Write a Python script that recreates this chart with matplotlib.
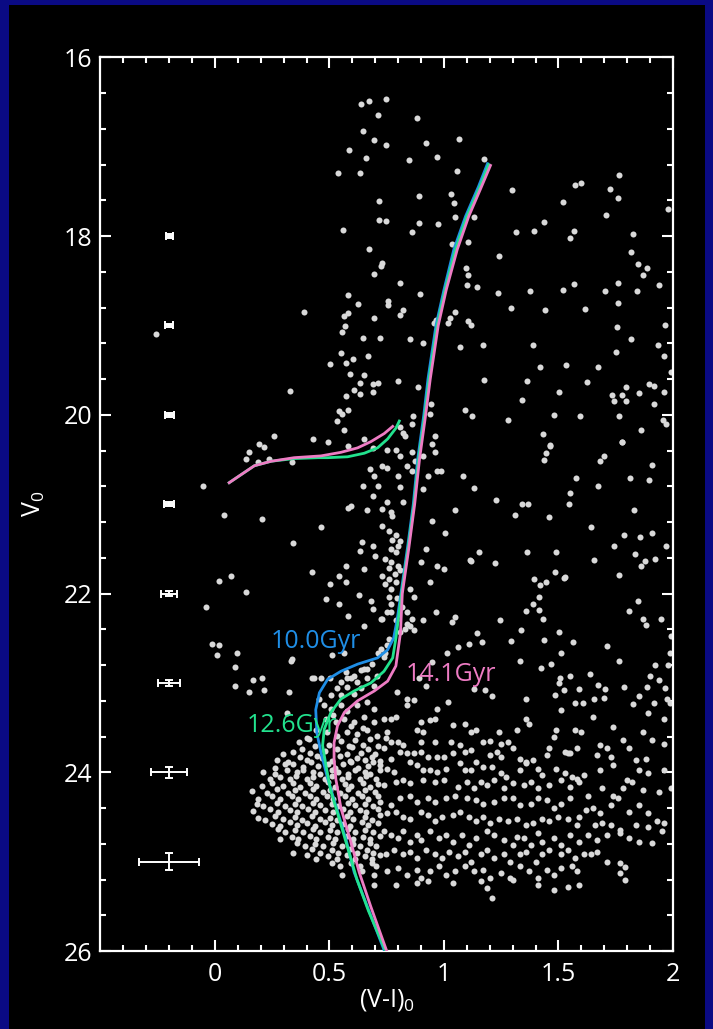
import numpy as np
import matplotlib
matplotlib.use('Agg')
from matplotlib import pyplot as plt
from matplotlib.patches import Rectangle

plt.rcParams['font.family'] = ['Open Sans', 'DejaVu Sans']
plt.rcParams['mathtext.fontset'] = 'custom'
plt.rcParams['mathtext.rm'] = 'Open Sans'
plt.rcParams['mathtext.it'] = 'Open Sans'

# stars, (V-I)0, V0
stars_top = [
    (0.636,16.52),(0.672,16.49),(0.745,16.47),(0.711,16.65),(0.88,16.68),(0.648,16.82),
    (0.695,16.92),(0.747,16.98),(0.587,17.04),(0.923,16.96),(1.066,16.91),(0.969,17.11),
    (0.658,17.13),(0.846,17.15),(0.537,17.29),(0.634,17.30),(0.892,17.55),(0.715,17.61),
    (0.717,17.82),(0.747,17.83),(0.892,17.85),(0.973,17.87),(0.557,17.93),(0.862,17.96),
    (0.672,18.15),(0.731,18.30),(0.727,18.34),(0.695,18.43),(0.81,18.53),(0.894,18.65),
    (0.583,18.66),(0.626,18.76),(0.755,18.73),(0.757,18.77),(0.822,18.83),(0.806,18.88),
    (0.563,18.90),(0.579,18.86),(0.695,18.92),(0.567,19.01),(0.553,19.07),(0.39,18.85),
    (0.646,19.14),(0.721,19.14),(0.85,19.15),(0.91,19.20),(0.964,18.94),(0.958,18.97),
    (-0.257,19.10),
]
stars_mid = [
    (0.549,19.31),(0.573,19.42),(0.602,19.38),(0.668,19.34),(0.504,19.43),(0.589,19.54),
    (0.652,19.55),(0.632,19.64),(0.688,19.66),(0.711,19.64),(0.692,19.74),(0.608,19.72),
    (0.80,19.62),(0.329,19.73),(0.632,19.77),(0.573,19.79),(0.886,19.69),(0.543,19.96),
    (0.553,19.99),(0.583,19.95),(0.533,20.07),(0.563,20.17),(0.81,20.14),(0.82,20.20),
    (0.83,20.24),(0.866,20.01),(0.86,20.10),(0.939,19.99),(0.945,19.88),(0.959,20.24),
    (0.256,20.24),(0.192,20.33),(0.216,20.36),(0.147,20.42),(0.137,20.50),(0.187,20.53),
    (0.236,20.50),(0.335,20.53),(0.43,20.27),(0.494,20.30),(0.583,20.35),(0.652,20.27),
    (0.688,20.37),(0.751,20.39),(0.79,20.39),(0.81,20.46),(0.86,20.42),(0.874,20.52),
    (0.909,20.46),(0.949,20.33),(0.959,20.42),(0.676,20.61),(0.696,20.68),(0.731,20.57),
    (0.751,20.59),(0.80,20.68),(0.84,20.57),(0.86,20.63),(0.929,20.68),(0.969,20.63),
    (-0.051,20.80),(0.648,20.80),(0.711,20.80),(0.81,20.81),(0.909,20.83),(0.692,20.91),
    (0.751,20.98),(0.82,20.98),(0.593,21.02),(0.583,21.04),(0.662,21.06),(0.731,21.05),
    (0.77,21.09),(0.775,21.13),(0.038,21.12),(0.206,21.17),(0.731,21.24),(0.761,21.30),
    (0.949,21.19),(0.464,21.25),(0.79,21.35),(0.81,21.41),(0.80,21.47),(0.77,21.50),
    (0.79,21.54),(0.339,21.43),(0.642,21.42),(0.632,21.52),(0.692,21.47),(0.70,21.58),
    (0.741,21.61),(0.77,21.65),(0.761,21.71),(0.80,21.69),(0.81,21.74),(0.92,21.50),
    (0.90,21.65),(0.969,21.69),(0.731,21.80),(0.761,21.84),(0.741,21.89),(0.77,21.95),
    (0.761,22.04),(0.77,22.12),(0.79,21.87),(0.573,21.69),(0.543,21.80),(0.652,21.73),
    (0.424,21.76),(0.503,21.89),(0.573,21.87),(0.628,22.02),(0.682,22.08),(0.688,22.17),
    (0.018,21.86),(0.068,21.80),(0.137,21.98),(-0.041,22.15),(0.484,22.06),(0.543,22.12),
    (0.85,21.95),(0.87,22.04),(0.939,21.87),(0.84,22.21),(0.86,22.28),(0.85,22.36),
    (0.909,22.30),(0.965,22.21),(0.83,22.40),(0.81,22.43),(0.731,22.28),(0.77,22.21),
    (0.583,22.25),(0.652,22.36),(-0.011,22.57),(0.018,22.58),(0.008,22.69),(0.097,22.67),
    (0.087,22.82),(0.167,22.97),(0.206,22.95),(0.087,23.03),(0.335,22.73),(0.434,22.95),
    (0.503,22.94),(0.573,22.88),(0.593,22.95),(0.711,22.67),(0.741,22.66),(0.652,22.84),
    (0.949,22.77),(0.89,22.94),(0.92,23.03),(0.785,21.78),(0.795,22.05),(0.79,22.30),
    (0.775,21.40),(0.815,22.15),
]
stars_sgb = [
    (0.723,22.62),(0.752,22.58),(0.737,22.71),(0.687,22.79),(0.665,22.84),(0.636,22.86),
    (0.607,22.92),(0.578,22.95),(0.549,22.99),(0.621,22.99),(0.665,22.95),(0.708,22.92),
    (0.534,23.06),(0.578,23.05),(0.636,23.06),(0.694,23.03),(0.505,23.14),(0.549,23.14),
    (0.607,23.12),(0.752,22.21),(0.723,22.28),(0.759,22.51),(0.839,22.34),(0.868,22.41),
    (0.425,22.95),(0.461,22.95),(0.331,22.75),(0.512,22.69),(0.563,22.67),(0.795,23.10),
    (0.839,23.18),(0.316,23.34),(0.454,23.18),(0.476,23.25),(0.505,23.29),(0.549,23.25),
    (0.578,23.32),(0.621,23.25),(0.665,23.21),(0.694,23.29),(0.483,23.40),(0.527,23.44),
    (0.563,23.40),(0.607,23.44),(0.650,23.38),(0.694,23.44),(0.49,23.55),(0.534,23.59),
    (0.578,23.55),(0.621,23.57),(0.665,23.53),(0.708,23.59),(0.403,23.62),(0.44,23.53),
    (0.147,23.10),(0.216,23.08),(0.325,23.10),(0.592,23.48),(0.648,23.50),(0.515,23.36),
]
stars_right_top = [
    (1.055,17.27),(1.174,17.14),(1.029,17.53),(1.043,17.63),(1.05,17.79),(1.133,17.79),
    (1.033,18.09),(1.107,18.07),(1.094,18.36),(1.104,18.44),(1.101,18.55),(1.145,18.57),
    (1.241,18.22),(1.299,17.48),(1.518,17.62),(1.573,17.43),(1.599,17.41),(1.726,17.47),
    (1.765,17.32),(1.758,17.57),(1.708,17.76),(1.98,17.70),(1.438,17.84),(1.395,17.94),
    (1.315,17.96),(1.566,17.94),(1.549,18.02),(1.824,17.98),(1.817,18.18),(1.845,18.31),
    (1.888,18.36),(1.871,18.44),(1.941,18.55),(1.761,18.53),(1.843,18.62),(1.701,18.61),
    (1.569,18.54),(1.521,18.60),(1.376,18.62),(1.236,18.64),(1.293,18.81),(1.44,18.83),
    (1.615,18.82),(1.759,18.75),(1.046,18.85),(1.026,18.92),(1.018,18.97),(1.104,18.95),
    (1.116,19.0),(1.072,19.24),(1.171,19.22),(1.389,19.22),(1.756,19.02),(1.817,19.15),
    (1.75,19.30),(1.936,19.22),(1.965,19.0),(1.961,19.34),(1.992,19.52),(1.174,19.61),
    (1.418,19.46),(1.534,19.44),(1.671,19.47),(1.626,19.63),(1.364,19.62),(1.501,19.75),
    (1.341,19.83),(1.793,19.69),(1.733,19.78),(1.777,19.78),(1.743,19.85),(1.795,19.85),
    (1.85,19.76),(1.897,19.65),(1.917,19.68),(1.961,19.75),(1.919,19.88),(1.09,19.95),
    (1.122,20.01),(1.278,20.06),(1.482,20.0),(1.592,20.01),(1.765,20.01),(1.955,20.06),
    (1.97,20.10),(1.862,20.17),(1.431,20.22),(1.464,20.34),(1.777,20.31),
]
stars_right_mid = [
    (1.447,20.43),(1.435,20.51),(1.70,20.46),(1.682,20.52),(1.909,20.56),(0.989,20.63),
    (1.081,20.69),(1.133,20.82),(1.578,20.71),(1.811,20.71),(1.894,20.73),(1.673,20.80),
    (1.549,20.88),(1.546,21.0),(1.228,20.95),(1.341,21.0),(1.367,21.0),(1.046,21.07),
    (1.309,21.12),(1.46,21.14),(1.829,21.06),(1.643,21.26),(1.005,21.32),(1.787,21.35),
    (1.854,21.37),(1.909,21.32),(1.97,21.47),(1.743,21.47),(1.155,21.53),(1.113,21.62),
    (1.119,21.64),(1.363,21.54),(1.488,21.54),(1.222,21.66),(1.836,21.56),(1.878,21.64),
    (1.859,21.69),(1.922,21.61),(1.656,21.62),(1.0,21.72),(1.486,21.76),(1.522,21.83),
    (1.528,21.81),(1.766,21.79),(1.392,21.84),(1.445,21.87),(1.421,21.91),(1.415,22.04),
    (1.389,22.12),(1.36,22.20),(1.416,22.18),(1.434,22.28),(1.846,22.08),(1.806,22.20),
    (1.867,22.28),(1.88,22.35),(1.946,22.28),(1.049,22.26),(1.037,22.32),(1.244,22.30),
    (1.338,22.41),(1.503,22.43),(1.142,22.44),(1.165,22.54),(1.293,22.53),(1.438,22.52),
    (1.562,22.54),(1.06,22.60),(1.11,22.57),(1.011,22.67),(1.711,22.59),(1.511,22.66),
    (1.99,22.47),(1.987,22.67),(1.334,22.76),(1.763,22.76),(1.424,22.83),(1.469,22.79),
    (1.922,22.80),(1.978,22.80),(1.639,22.90),(1.508,22.94),(1.503,23.0),(1.549,22.92),
    (1.90,22.92),(1.939,22.97),(1.673,23.02),(1.701,23.07),(1.788,23.05),(1.886,23.05),
    (1.964,23.06),(1.591,23.07),(1.525,23.08),(1.13,23.07),(1.177,23.08),(1.21,23.15),
    (1.36,23.18),(1.486,23.14),(1.85,23.15),(1.653,23.18),(1.70,23.17),(1.915,23.23),
    (1.017,23.21),(1.827,23.24),(1.572,23.22),(1.607,23.23),(1.973,23.18),(1.987,23.23),
    (1.464,20.35),(1.777,20.31),
]
stars_field_low = [
    (0.84,23.25),(0.87,23.19),(0.97,23.29),(1.51,23.30),(1.65,23.38),(1.89,23.34),(1.96,23.40),
    (0.74,23.40),(0.77,23.40),(0.79,23.38),(0.90,23.44),(0.94,23.42),(0.96,23.40),(1.04,23.47),
    (1.09,23.46),(1.36,23.40),(1.37,23.46),(1.49,23.53),(1.57,23.53),(1.60,23.55),(1.74,23.49),
    (1.87,23.55),(0.75,23.55),(0.745,23.62),(0.88,23.53),(0.91,23.55),(1.12,23.55),(1.14,23.53),
    (1.24,23.55),(1.32,23.53),(1.48,23.60),(0.77,23.66),(0.80,23.66),(0.82,23.70),(0.90,23.66),
    (0.96,23.66),(1.03,23.66),(1.07,23.70),(1.17,23.66),(1.20,23.65),(1.25,23.68),(1.28,23.66),
    (1.46,23.73),(1.53,23.77),(1.55,23.79),(1.58,23.73),(1.68,23.70),(1.71,23.73),(1.78,23.64),
    (1.81,23.73),(1.91,23.64),(1.96,23.68),(0.74,23.73),(0.77,23.85),(0.81,23.77),(0.84,23.79),
    (0.87,23.79),(0.90,23.77),(0.93,23.83),(0.97,23.83),(1.0,23.83),(1.04,23.79),(1.09,23.77),
    (1.12,23.75),(1.20,23.81),(1.23,23.77),(1.25,23.83),(1.30,23.73),(1.33,23.85),(1.36,23.88),
    (1.39,23.86),(1.45,23.81),(1.54,23.79),(1.67,23.81),(1.73,23.83),(1.84,23.86),(1.88,23.85),
    (0.72,23.92),(0.75,23.96),(0.78,24.0),(0.85,23.88),(0.88,23.92),(0.91,23.98),(0.94,23.98),
    (0.97,24.0),(1.01,23.96),(1.07,23.90),(1.09,23.98),(1.12,23.98),(1.14,23.88),(1.17,23.94),
    (1.21,23.94),(1.25,24.01),(1.27,24.05),(1.33,23.98),(1.36,23.90),(1.41,23.96),(1.43,24.03),
    (1.49,23.96),(1.53,24.01),(1.56,24.05),(1.58,24.07),(1.61,24.03),(1.68,23.98),(1.74,23.92),
    (1.80,24.09),(1.85,23.98),(1.89,24.01),(1.96,23.98),(1.99,24.18),
    (0.74,24.14),(0.79,24.11),(0.82,24.09),(0.85,24.12),(0.91,24.09),(0.96,24.11),(1.0,24.09),
    (1.06,24.16),(1.10,24.11),(1.13,24.18),(1.16,24.11),(1.19,24.14),(1.22,24.09),(1.26,24.18),
    (1.30,24.12),(1.35,24.14),(1.38,24.11),(1.41,24.18),(1.46,24.14),(1.51,24.09),(1.55,24.16),
    (1.59,24.11),(1.63,24.26),(1.69,24.18),(1.74,24.27),(1.78,24.18),(1.82,24.11),(1.87,24.20),
    (1.94,24.22),
    (0.72,24.33),(0.77,24.37),(0.81,24.29),(0.85,24.27),(0.88,24.33),(0.93,24.29),(0.96,24.33),
    (1.01,24.29),(1.05,24.26),(1.10,24.29),(1.14,24.31),(1.17,24.35),(1.22,24.33),(1.26,24.29),
    (1.30,24.29),(1.33,24.37),(1.38,24.35),(1.41,24.29),(1.45,24.31),(1.48,24.40),(1.51,24.35),
    (1.55,24.29),(1.59,24.50),(1.62,24.42),(1.65,24.40),(1.68,24.46),(1.73,24.37),(1.76,24.29),
    (1.81,24.44),(1.85,24.37),(1.89,24.46),(1.93,24.55),(1.96,24.57),
    (0.72,24.48),(0.75,24.46),(0.79,24.44),(0.82,24.50),(0.85,24.52),(0.90,24.44),(0.93,24.48),
    (0.96,24.55),(0.99,24.50),(1.04,24.48),(1.07,24.44),(1.11,24.50),(1.14,24.55),(1.17,24.50),
    (1.20,24.57),(1.24,24.52),(1.28,24.55),(1.32,24.52),(1.36,24.59),(1.39,24.57),(1.43,24.52),
    (1.46,24.55),(1.50,24.50),(1.54,24.52),(1.58,24.59),(1.66,24.59),(1.69,24.57),(1.73,24.59),
    (1.77,24.65),(1.84,24.59),(1.89,24.61),(1.95,24.66),
    (0.74,24.66),(0.77,24.70),(0.80,24.74),(0.82,24.66),(0.85,24.78),(0.88,24.70),(0.90,24.76),
    (0.94,24.66),(0.98,24.74),(1.01,24.70),(1.04,24.78),(1.08,24.70),(1.11,24.81),(1.14,24.74),
    (1.19,24.66),(1.22,24.70),(1.26,24.76),(1.30,24.81),(1.32,24.72),(1.35,24.74),(1.38,24.81),
    (1.41,24.68),(1.43,24.78),(1.48,24.74),(1.51,24.81),(1.55,24.70),(1.59,24.78),(1.63,24.70),
    (1.67,24.76),(1.71,24.70),(1.77,24.68),(1.81,24.74),(1.85,24.78),(1.91,24.79),
    (0.745,24.91),(0.78,24.87),(0.82,24.92),(0.85,24.89),(0.88,24.96),(0.92,24.87),(0.96,24.92),
    (0.99,24.96),(1.02,24.89),(1.06,24.94),(1.09,24.89),(1.12,25.0),(1.16,24.92),(1.19,24.87),
    (1.22,24.96),(1.26,24.91),(1.29,25.0),(1.33,24.92),(1.36,24.89),(1.40,25.0),(1.43,24.92),
    (1.46,24.87),(1.51,24.92),(1.54,24.87),(1.57,24.96),(1.61,24.92),(1.64,24.92),(1.67,24.89),
    (1.71,25.0),(1.77,25.02),(1.79,25.06),
    (0.75,25.11),(0.80,25.07),(0.84,25.15),(0.88,25.09),(0.90,25.18),(0.94,25.11),(0.98,25.05),
    (1.01,25.15),(1.05,25.11),(1.09,25.05),(1.13,25.11),(1.17,25.09),(1.20,25.18),(1.25,25.13),
    (1.29,25.18),(1.33,25.05),(1.37,25.11),(1.41,25.18),(1.45,25.09),(1.48,25.15),(1.51,25.07),
    (1.56,25.05),(1.58,25.11),(1.77,25.13),(1.79,25.20),
    (0.79,25.26),(0.88,25.24),(0.93,25.22),(1.04,25.24),(1.16,25.22),(1.19,25.30),(1.21,25.41),
    (1.30,25.20),(1.41,25.26),(1.48,25.32),(1.54,25.28),(1.59,25.26),
]
stars_ms = [
    (0.367,23.66),(0.412,23.63),(0.497,23.69),(0.552,23.65),(0.584,23.71),(0.611,23.64),
    (0.648,23.69),(0.676,23.63),(0.712,23.71),
    (0.298,23.80),(0.341,23.77),(0.379,23.74),(0.415,23.79),(0.437,23.71),(0.479,23.76),
    (0.531,23.74),(0.575,23.80),(0.597,23.72),(0.639,23.78),(0.668,23.74),(0.698,23.80),
    (0.270,23.86),(0.321,23.88),(0.371,23.83),(0.400,23.86),(0.446,23.82),(0.467,23.84),
    (0.509,23.87),(0.546,23.82),(0.589,23.87),(0.618,23.84),(0.655,23.86),(0.684,23.83),(0.719,23.87),
    (0.262,23.95),(0.306,23.91),(0.341,23.91),(0.386,23.94),(0.421,23.89),(0.451,23.93),
    (0.495,23.91),(0.523,23.95),(0.560,23.91),(0.596,23.89),(0.626,23.95),(0.669,23.93),(0.690,23.89),
    (0.211,24.00),(0.263,24.02),(0.313,23.97),(0.357,24.00),(0.385,23.97),(0.430,24.00),
    (0.458,24.02),(0.509,23.97),(0.538,24.00),(0.582,24.02),(0.611,23.97),(0.655,24.00),
    (0.676,24.02),(0.719,23.97),
    (0.240,24.08),(0.284,24.05),(0.328,24.08),(0.356,24.04),(0.400,24.07),(0.429,24.05),
    (0.480,24.08),(0.509,24.04),(0.553,24.08),(0.581,24.05),(0.633,24.07),(0.661,24.04),(0.705,24.08),
    (0.204,24.15),(0.248,24.12),(0.298,24.15),(0.342,24.12),(0.371,24.16),(0.415,24.12),
    (0.443,24.15),(0.495,24.11),(0.523,24.16),(0.568,24.13),(0.596,24.15),(0.647,24.12),
    (0.676,24.16),(0.712,24.13),
    (0.160,24.21),(0.226,24.23),(0.269,24.19),(0.320,24.23),(0.350,24.20),(0.393,24.23),
    (0.429,24.19),(0.473,24.22),(0.502,24.20),(0.546,24.23),(0.581,24.19),(0.626,24.23),
    (0.655,24.20),(0.698,24.22),
    (0.190,24.30),(0.248,24.27),(0.284,24.30),(0.335,24.26),(0.364,24.30),(0.415,24.27),
    (0.443,24.30),(0.488,24.26),(0.516,24.30),(0.568,24.27),(0.597,24.30),(0.640,24.26),
    (0.669,24.30),(0.712,24.27),
    (0.182,24.36),(0.211,24.38),(0.270,24.34),(0.306,24.38),(0.350,24.35),(0.379,24.38),
    (0.430,24.34),(0.458,24.37),(0.509,24.35),(0.538,24.38),(0.582,24.34),(0.611,24.37),
    (0.655,24.35),(0.690,24.38),
    (0.168,24.43),(0.240,24.41),(0.277,24.45),(0.328,24.42),(0.357,24.45),(0.408,24.41),
    (0.437,24.45),(0.480,24.42),(0.516,24.45),(0.560,24.41),(0.589,24.44),(0.633,24.42),
    (0.661,24.45),(0.712,24.41),
    (0.190,24.51),(0.219,24.53),(0.263,24.49),(0.298,24.52),(0.350,24.50),(0.379,24.53),
    (0.422,24.49),(0.458,24.52),(0.502,24.51),(0.531,24.53),(0.575,24.49),(0.604,24.52),
    (0.655,24.50),(0.684,24.53),
    (0.248,24.58),(0.284,24.60),(0.328,24.56),(0.357,24.59),(0.400,24.57),(0.437,24.60),
    (0.480,24.56),(0.509,24.59),(0.560,24.58),(0.589,24.60),(0.640,24.56),(0.669,24.59),(0.712,24.57),
    (0.277,24.64),(0.306,24.67),(0.350,24.65),(0.386,24.67),(0.430,24.64),(0.458,24.67),
    (0.502,24.65),(0.531,24.67),(0.582,24.64),(0.611,24.67),(0.655,24.65),(0.690,24.67),
    (0.284,24.75),(0.335,24.72),(0.364,24.75),(0.415,24.71),(0.443,24.75),(0.495,24.72),
    (0.523,24.75),(0.575,24.71),(0.604,24.75),(0.647,24.72),(0.676,24.75),(0.719,24.71),
    (0.357,24.79),(0.393,24.82),(0.437,24.80),(0.473,24.82),(0.516,24.79),(0.553,24.82),
    (0.604,24.80),(0.633,24.82),(0.676,24.79),(0.705,24.82),
    (0.342,24.90),(0.422,24.86),(0.458,24.90),(0.509,24.87),(0.538,24.90),(0.589,24.86),
    (0.618,24.90),(0.662,24.87),(0.690,24.90),
    (0.400,24.93),(0.443,24.97),(0.495,24.94),(0.531,24.97),(0.575,24.93),(0.611,24.97),
    (0.655,24.94),(0.684,24.97),(0.719,24.93),
    (0.509,25.02),(0.546,25.05),(0.596,25.01),(0.633,25.05),(0.684,25.02),(0.705,25.05),
    (0.556,25.15),(0.643,25.11),(0.694,25.15),(0.694,25.26),
]

# isochrones (V-I)0, V0
iso10_x = [1.19, 1.15, 1.094, 1.043, 1.0, 0.965, 0.93, 0.912, 0.885, 0.866, 0.84, 0.812, 0.795,
           0.78, 0.754, 0.71, 0.623, 0.55, 0.492, 0.456, 0.44, 0.445, 0.463, 0.49, 0.525, 0.572,
           0.608, 0.665, 0.74]
iso10_v = [17.19, 17.45, 17.78, 18.15, 18.6, 19.0, 19.6, 20.0, 20.5, 21.0, 21.5, 22.0, 22.3,
           22.5, 22.63, 22.72, 22.79, 22.87, 22.96, 23.11, 23.30, 23.56, 23.78, 24.05, 24.35, 24.75,
           25.12, 25.5, 26.0]
iso126_x = [1.195, 1.155, 1.1, 1.05, 1.005, 0.97, 0.935, 0.916, 0.889, 0.869, 0.843, 0.815, 0.8,
            0.79, 0.776, 0.738, 0.681, 0.608, 0.55, 0.506, 0.477, 0.47, 0.485, 0.505, 0.54, 0.58,
            0.62, 0.67, 0.745]
iso126_v = [17.2, 17.46, 17.78, 18.15, 18.6, 19.0, 19.6, 20.0, 20.5, 21.0, 21.5, 22.0, 22.3,
            22.5, 22.72, 22.87, 23.0, 23.09, 23.18, 23.33, 23.52, 23.70, 23.93, 24.2, 24.5, 24.85,
            25.2, 25.55, 26.0]
hb126_x = [0.062, 0.114, 0.172, 0.245, 0.346, 0.45, 0.492, 0.579, 0.652, 0.71, 0.754, 0.79, 0.805]
hb126_v = [20.76, 20.67, 20.57, 20.52, 20.49, 20.48, 20.48, 20.47, 20.43, 20.37, 20.27, 20.15, 20.07]
iso141_x = [1.203, 1.16, 1.108, 1.058, 1.01, 0.975, 0.94, 0.92, 0.893, 0.872, 0.846, 0.818, 0.81,
            0.79, 0.754, 0.696, 0.623, 0.565, 0.535, 0.52, 0.52, 0.528, 0.55, 0.59, 0.63, 0.68, 0.75]
iso141_v = [17.21, 17.47, 17.78, 18.15, 18.6, 19.0, 19.6, 20.0, 20.5, 21.0, 21.5, 22.0, 22.44,
            22.81, 22.98, 23.09, 23.2, 23.33, 23.48, 23.67, 23.85, 24.08, 24.4, 24.75, 25.12, 25.5, 26.0]
hb141_x = [0.062, 0.114, 0.172, 0.245, 0.346, 0.463, 0.55, 0.623, 0.681, 0.739, 0.776]
hb141_v = [20.76, 20.67, 20.57, 20.52, 20.48, 20.46, 20.42, 20.37, 20.30, 20.21, 20.13]

# photometric errors
err_v = [18, 19, 20, 21, 22, 23, 24, 25]
err_col = [0.016, 0.017, 0.02, 0.023, 0.036, 0.048, 0.08, 0.13]
err_mag = [0.02, 0.02, 0.025, 0.025, 0.03, 0.03, 0.06, 0.095]

blue = '#1f8ee6'
green = '#22e28e'
pink = '#ee7cc4'

fig = plt.figure(figsize=(7.13, 10.29), dpi=100, facecolor='#0a0a84')
fig.patches.append(Rectangle((0.0126, 0), 0.976, 0.9951, transform=fig.transFigure,
                             facecolor='black', edgecolor='none', zorder=-5))
ax = fig.add_axes([0.1409, 0.0758, 0.8030, 0.8685])
ax.set_zorder(2)
ax.set_facecolor('black')

pts = np.array(stars_top + stars_mid + stars_sgb + stars_right_top + stars_right_mid
               + stars_field_low + stars_ms)
ax.scatter(pts[:, 0], pts[:, 1], s=19, color='#d9d9d9', linewidths=0, zorder=2)

ax.errorbar([-0.2] * len(err_v), err_v, xerr=err_col, yerr=err_mag, fmt='none',
            ecolor='white', elinewidth=1.4, capsize=3, capthick=1.4, zorder=3)

ax.plot(iso10_x, iso10_v, color=blue, lw=2.0, zorder=4)
ax.plot(iso126_x, iso126_v, color=green, lw=2.0, zorder=5)
ax.plot(hb126_x, hb126_v, color=green, lw=2.0, zorder=5)
ax.plot(iso141_x, iso141_v, color=pink, lw=2.0, zorder=6)
ax.plot(hb141_x, hb141_v, color=pink, lw=2.0, zorder=6)

ax.text(0.44, 22.54, '10.0Gyr', color=blue, fontsize=18, ha='center', va='center', zorder=7)
ax.text(1.032, 22.91, '14.1Gyr', color=pink, fontsize=18, ha='center', va='center', zorder=7)
ax.text(0.335, 23.48, '12.6Gyr', color=green, fontsize=18, ha='center', va='center', zorder=7)

ax.set_xlim(-0.5, 2.0)
ax.set_ylim(26, 16)
ax.set_xticks([0, 0.5, 1, 1.5, 2])
ax.set_xticklabels(['0', '0.5', '1', '1.5', '2'])
ax.set_xticks(np.arange(-0.4, 2.0, 0.1), minor=True)
ax.set_yticks([16, 18, 20, 22, 24, 26])
ax.set_yticks(np.arange(16.4, 26, 0.4), minor=True)
ax.tick_params(which='both', direction='in', top=True, right=True, colors='white',
               labelsize=18, width=1.5)
ax.tick_params(which='major', length=8)
ax.tick_params(which='minor', length=4)
ax.tick_params(axis='x', pad=8)
ax.tick_params(axis='y', pad=6)
for sp in ax.spines.values():
    sp.set_color('white')
    sp.set_linewidth(1.6)

ax.set_xlabel(r'(V-I)$_\mathrm{0}$', color='white', fontsize=18, labelpad=0)
ax.set_ylabel(r'V$_\mathrm{0}$', color='white', fontsize=18, labelpad=12)

fig.savefig('out.png', dpi=100, facecolor=fig.get_facecolor())
